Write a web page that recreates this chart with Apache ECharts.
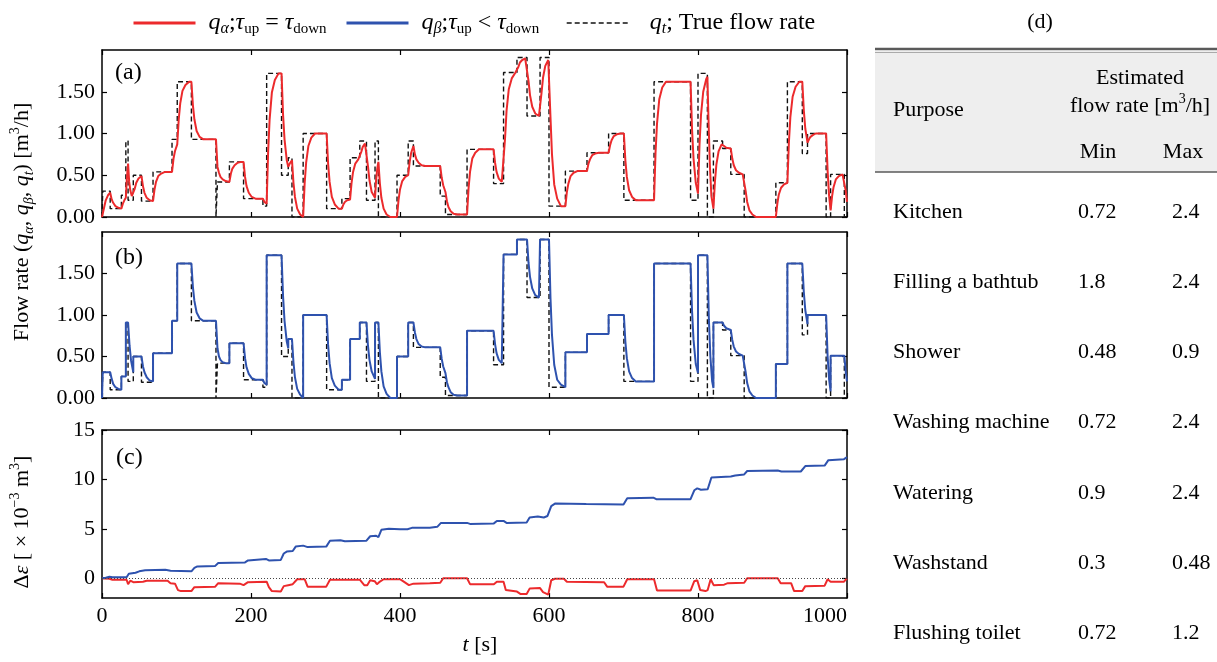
<!DOCTYPE html>
<html><head><meta charset="utf-8">
<script src="https://cdn.jsdelivr.net/npm/echarts@6/dist/echarts.min.js"></script>
<style>html,body{margin:0;padding:0;background:#fff}#c{width:1217px;height:662px}</style>
</head><body><div id="c"></div>
<script>
// ---------- data ----------
const xTicks = [0, 200, 400, 600, 800, 1000];
const flowTicks = [0, 0.5, 1, 1.5];
const errTicks = [0, 5, 10, 15];

// true flow rate: [time, value] held until next change
const trueFlow = [[0,0],[1,0.31],[11,0.1],[26,0.26],[32,0.91],[35,0.2],[42,0.5],[53,0.19],[68.5,0.54],[94,0.93],[101,1.62],[120,0.93],[153,0],[155,0.42],[171,0.66],[190,0.22],[216,0.13],[221,1.72],[241,0.5],[250,0.71],[255,0],[270,1.0],[301.5,0.1],[322,0.22],[333,0.71],[346,0.91],[355,0.2],[366.5,0.91],[371,0],[396,0.5],[411,0.91],[418,0.61],[454,0.25],[461,0.03],[490,0.81],[525.6,0.4],[539,1.73],[557,1.91],[570.5,1.21],[588,1.91],[600,0.13],[622,0.55],[651,0.77],[680,1.0],[700.5,0.2],[741,1.62],[790,0.2],[800,1.72],[812.6,0],[820.7,0.91],[833,0.82],[844,0.51],[862,0],[904.5,0.41],[920,1.62],[940,0.76],[947,1.0],[972,0],[978,0.51],[996.4,0],[1000,0]];

const qAlpha = [[0,0],[1,0],[3,0.12],[5,0.2],[8,0.26],[11,0.29],
[13,0.21],[15,0.17],[18,0.13],[22,0.11],[26,0.1],
[28,0.16],[30,0.2],[32,0.23],
[33,0.4],[34,0.53],[35,0.64],
[36.5,0.42],[38,0.32],[40,0.25],[42,0.23],
[44,0.34],[46,0.41],[49,0.46],[53,0.49],
[55,0.37],[57,0.29],[60,0.23],[64,0.2],[68.5,0.19],
[70.5,0.33],[72.5,0.42],[75.5,0.49],[79.5,0.52],[84.5,0.54],[94,0.54],
[96,0.7],[98,0.79],[101,0.87],
[103,1.17],[105,1.36],[108,1.51],[112,1.58],[117,1.62],[120,1.62],
[122,1.34],[124,1.17],[127,1.03],[131,0.96],[136,0.93],[153,0.93],
[155,0.6],
[157,0.53],[159,0.48],[162,0.45],[166,0.43],[171,0.42],
[173,0.52],[175,0.58],[178,0.62],[182,0.65],[187,0.66],[190,0.66],
[192,0.48],[194,0.37],[197,0.29],[201,0.24],[206,0.22],[216,0.22],
[218,0.18],[221,0.16],
[223,0.78],[225,1.17],[228,1.49],[232,1.64],[237,1.72],[241,1.72],
[243,1.23],[245,0.93],[248,0.68],[250,0.6],
[252,0.64],[255,0.68],
[257,0.41],[259,0.24],[262,0.1],[266,0.03],[270,0],
[272,0.4],[274,0.65],[277,0.85],[281,0.95],[286,1.0],[301.5,1.0],
[303.5,0.64],[305.5,0.42],[308.5,0.24],[312.5,0.15],[317.5,0.1],[322,0.1],
[324,0.15],[326,0.18],[329,0.2],[333,0.21],
[335,0.41],[337,0.54],[340,0.64],[344,0.69],[346,0.7],
[348,0.78],[350,0.84],[353,0.88],[355,0.89],
[357,0.61],[359,0.44],[362,0.3],[366.5,0.23],
[368,0.45],[369.5,0.58],[371,0.66],
[373,0.4],[375,0.23],[378,0.1],[382,0.03],[387,0],[396,0],
[398,0.2],[400,0.33],[403,0.43],[407,0.48],[411,0.5],
[413,0.66],[415,0.77],[418,0.85],
[420,0.75],[422,0.69],[425,0.65],[429,0.62],[434,0.61],[454,0.61],
[456,0.47],[458,0.38],[461,0.3],
[463,0.19],[465,0.12],[468,0.07],[472,0.04],[477,0.03],[490,0.03],
[492,0.34],[494,0.54],[497,0.7],[501,0.77],[506,0.81],[525.6,0.81],
[527.6,0.65],[529.6,0.54],[532.6,0.46],[536.6,0.42],[539,0.41],
[541,0.94],[543,1.27],[546,1.53],[550,1.66],[555,1.73],[557,1.73],
[559,1.8],[561,1.85],[564,1.88],[568,1.9],[570.5,1.91],
[572.5,1.63],[574.5,1.46],[577.5,1.32],[581.5,1.24],[586.5,1.21],[588,1.21],
[590,1.49],[592,1.67],[595,1.81],[599,1.88],[600,1.89],
[602,1.19],[604,0.75],[607,0.39],[611,0.22],[616,0.13],[622,0.13],
[624,0.3],[626,0.4],[629,0.49],[633,0.53],[638,0.55],[651,0.55],
[653,0.64],[655,0.69],[658,0.74],[662,0.76],[667,0.77],[680,0.77],
[682,0.86],[684,0.92],[687,0.97],[691,0.99],[696,1.0],[700.5,1.0],
[702.5,0.68],[704.5,0.48],[707.5,0.32],[711.5,0.24],[716.5,0.2],[741,0.2],
[743,0.77],[745,1.12],[748,1.41],[752,1.55],[757,1.62],[790,1.62],
[792,1.05],[794,0.7],[797,0.41],[800,0.28],
[802,0.86],[804,1.22],[807,1.5],[811,1.65],[812.6,1.68],
[814,1.2],[816,0.6],[818,0.25],[820.7,0.1],
[822.7,0.42],[824.7,0.63],[827.7,0.79],[831.7,0.87],[833,0.88],
[835,0.85],[838,0.83],[844,0.82],
[846,0.7],[848,0.62],[851,0.56],[855,0.53],[860,0.51],[862,0.51],
[864,0.31],[866,0.18],[869,0.08],[873,0.03],[878,0],[904.5,0],
[906.5,0.16],[908.5,0.27],[911.5,0.35],[915.5,0.39],[920,0.41],
[922,0.89],[924,1.2],[927,1.44],[931,1.56],[936,1.62],[940,1.62],
[942,1.28],[944,1.06],[947,0.89],
[949,0.93],[951,0.96],[954,0.98],[958,1.0],[972,1.0],
[974,0.55],[976,0.25],[978,0.08],
[980,0.25],[982,0.36],[985,0.45],[989,0.49],[994,0.51],[996.4,0.51],
[998.4,0.31],[1000,0.18]];

const qBeta = [[0,0],[1,0],[1,0.31],[11,0.31],
[13,0.23],[15,0.17],[18,0.13],[22,0.11],[26,0.1],
[26,0.26],[32,0.26],[32,0.91],[35,0.91],
[37,0.63],[39,0.45],[42,0.31],
[42,0.5],[53,0.5],
[55,0.38],[57,0.31],[60,0.25],[64,0.21],[68.5,0.2],
[68.5,0.54],[94,0.54],[94,0.93],[101,0.93],[101,1.62],[120,1.62],
[122,1.34],[124,1.17],[127,1.03],[131,0.96],[136,0.93],[153,0.93],
[155,0.6],[157,0.5],[159,0.46],[162,0.43],[166,0.42],[171,0.42],
[171,0.66],[190,0.66],
[192,0.48],[194,0.37],[197,0.29],[201,0.24],[206,0.22],[216,0.22],
[218,0.18],[221,0.16],
[221,1.72],[241,1.72],
[243,1.23],[245,0.93],[248,0.68],[250,0.6],
[250,0.71],[255,0.71],
[257,0.43],[259,0.25],[262,0.11],[266,0.04],[270,0],
[270,1.0],[301.5,1.0],
[303.5,0.64],[305.5,0.42],[308.5,0.24],[312.5,0.15],[317.5,0.1],[322,0.1],
[322,0.22],[333,0.22],[333,0.71],[346,0.71],[346,0.91],[355,0.91],
[357,0.63],[359,0.46],[362,0.32],[366.5,0.23],
[366.5,0.91],[371,0.91],
[373,0.55],[375,0.32],[378,0.14],[382,0.05],[387,0],[396,0],
[396,0.5],[411,0.5],[411,0.91],[418,0.91],
[420,0.79],[422,0.71],[425,0.65],[429,0.62],[434,0.61],[454,0.61],
[456,0.47],[458,0.38],[461,0.3],
[463,0.19],[465,0.13],[468,0.07],[472,0.04],[477,0.03],[490,0.03],
[490,0.81],[525.6,0.81],
[527.6,0.65],[529.6,0.54],[532.6,0.46],[536.6,0.42],[539,0.41],
[539,1.73],[557,1.73],[557,1.91],[570.5,1.91],
[572.5,1.63],[574.5,1.46],[577.5,1.32],[581.5,1.24],[586.5,1.21],[588,1.21],
[588,1.91],[600,1.91],
[602,1.2],[604,0.76],[607,0.4],[611,0.22],[616,0.16],[622,0.13],
[622,0.55],[651,0.55],[651,0.77],[680,0.77],[680,1.0],[700.5,1.0],
[702.5,0.68],[704.5,0.48],[707.5,0.32],[711.5,0.24],[716.5,0.2],[741,0.2],
[741,1.62],[790,1.62],
[792,1.05],[794,0.7],[797,0.41],[800,0.3],
[800,1.72],[812.6,1.72],
[814.6,0.95],[816.6,0.5],[819,0.2],[820.7,0.12],
[820.7,0.91],[833,0.91],
[835,0.87],[838,0.84],[844,0.82],
[846,0.7],[848,0.62],[851,0.56],[855,0.53],[860,0.51],[862,0.51],
[864,0.31],[866,0.18],[869,0.08],[873,0.03],[878,0],[904.5,0],
[904.5,0.41],[920,0.41],[920,1.62],[940,1.62],
[942,1.28],[944,1.06],[947,0.89],
[947,1.0],[972,1.0],
[974,0.5],[976,0.22],[978,0.08],
[978,0.51],[996.4,0.51],
[998.4,0.31],[1000,0.2]];

const errAlpha = [[0,0],[10,-0.05],[14,-0.15],[33,-0.15],[35,-0.6],[38,-0.25],[42,-0.4],[55,-0.35],[60,-0.25],[88,-0.25],[92,-0.5],[98,-0.55],[102,-1.2],[106,-1.3],[120,-1.3],[124,-0.9],[152,-0.85],[156,-0.5],[185,-0.55],[190,-0.7],[196,-0.4],[221,-0.35],[224,-0.9],[228,-1.3],[240,-1.35],[244,-0.8],[250,-0.7],[256,-0.6],[262,-0.1],[272,-0.1],[276,-0.85],[301,-0.85],[306,-0.15],[346,-0.15],[352,-0.7],[356,-0.7],[360,-0.2],[366,-0.3],[369,-0.6],[372,-0.4],[378,-0.1],[400,-0.1],[404,-0.3],[412,-0.7],[418,-0.55],[440,-0.5],[454,-0.45],[458,0],[490,0],[494,-0.6],[526,-0.6],[530,-0.35],[539,-0.35],[542,-1.2],[557,-1.35],[562,-1.6],[570,-1.6],[574,-1.05],[588,-1.0],[592,-1.4],[599,-1.65],[603,-0.2],[608,-0.05],[620,-0.05],[624,-0.35],[674,-0.4],[678,-0.85],[700,-0.85],[705,-0.1],[741,-0.1],[745,-1.25],[790,-1.25],[795,-0.3],[799,-0.2],[803,-1.2],[810,-1.3],[813,-1.2],[817,-0.1],[821,-0.7],[835,-0.65],[840,-0.5],[862,-0.45],[866,0],[907,0],[911,-0.5],[925,-0.5],[929,-1.3],[940,-1.3],[944,-0.8],[970,-0.75],[974,-0.1],[978,-0.35],[996,-0.35],[1000,0]];

const errBeta = [[0,0],[5,0.05],[10,0.15],[14,0.1],[33,0.1],[36,0.45],[45,0.55],[50,0.7],[58,0.8],[85,0.85],[92,0.75],[120,0.7],[124,1.05],[128,1.2],[152,1.25],[156,1.55],[192,1.6],[196,1.8],[220,1.95],[224,1.8],[240,1.85],[244,2.5],[248,2.7],[256,2.75],[260,3.2],[270,3.3],[276,3.15],[301,3.2],[306,3.8],[320,3.85],[326,3.75],[355,3.8],[360,4.25],[368,4.3],[371,4.15],[375,4.9],[385,5.0],[400,4.95],[410,4.95],[416,5.1],[440,5.1],[450,5.2],[455,5.6],[490,5.6],[494,5.5],[526,5.55],[530,5.8],[539,5.8],[543,5.6],[570,5.65],[574,6.15],[585,6.25],[593,6.15],[598,6.3],[603,7.3],[608,7.55],[650,7.5],[700,7.45],[705,8.1],[740,8.15],[744,8.0],[790,8.0],[795,8.9],[799,9.1],[804,8.95],[813,9.0],[818,10.2],[844,10.3],[850,10.4],[862,10.5],[866,10.85],[907,10.9],[912,10.8],[938,10.8],[944,11.35],[970,11.4],[975,11.95],[996,12.05],[1000,12.25]];

const purposes = ['Kitchen', 'Filling a bathtub', 'Shower', 'Washing machine', 'Watering', 'Washstand', 'Flushing toilet'];
const minRates = ['0.72', '1.8', '0.48', '0.72', '0.9', '0.3', '0.72'];
const maxRates = ['2.4', '2.4', '0.9', '2.4', '2.4', '0.48', '1.2'];

// ---------- styling ----------
const SERIF = '"Liberation Serif", "Times New Roman", "DejaVu Serif", serif';
const RED = '#ec2a2c';
const BLUE = '#2e52ae';
const BLACK = '#000';

const grids = [
  {left: 102, top: 50, width: 745, height: 167},
  {left: 102, top: 232, width: 745, height: 166},
  {left: 102, top: 430, width: 745, height: 168}
];

const axisLineStyle = {show: true, onZero: false, lineStyle: {color: BLACK, width: 1.5}};
const labelStyle = {color: BLACK, fontFamily: SERIF, fontSize: 22};

function xAx(g, pos, showLabel) {
  return {
    type: 'value', gridIndex: g, position: pos, min: xTicks[0], max: xTicks[xTicks.length - 1], interval: 200,
    splitLine: {show: false}, axisLine: axisLineStyle,
    axisTick: {show: true, inside: true, length: 5, lineStyle: {color: BLACK, width: 1.2}},
    axisLabel: Object.assign({show: showLabel, margin: 7, alignMaxLabel: 'right', formatter: v => String(v)}, labelStyle)
  };
}
function yAx(g, pos, showLabel, min, max, ticks, fmt) {
  return {
    type: 'value', gridIndex: g, position: pos, min: min, max: max,
    splitLine: {show: false}, axisLine: axisLineStyle,
    axisTick: {show: true, inside: true, length: 5, customValues: ticks, lineStyle: {color: BLACK, width: 1.2}},
    axisLabel: Object.assign({show: showLabel, margin: 7, customValues: ticks, formatter: fmt}, labelStyle)
  };
}
const fmtFlow = v => Number(v).toFixed(2);
const fmtErr = v => String(v);

const xAxis = [
  xAx(0, 'bottom', false), xAx(0, 'top', false),
  xAx(1, 'bottom', false), xAx(1, 'top', false),
  xAx(2, 'bottom', true), xAx(2, 'top', false)
];
const yAxis = [
  yAx(0, 'left', true, 0, 2, flowTicks, fmtFlow), yAx(0, 'right', false, 0, 2, flowTicks, fmtFlow),
  yAx(1, 'left', true, 0, 2, flowTicks, fmtFlow), yAx(1, 'right', false, 0, 2, flowTicks, fmtFlow),
  yAx(2, 'left', true, -2, 15, errTicks, fmtErr), yAx(2, 'right', false, -2, 15, errTicks, fmtErr)
];

const base = {type: 'line', symbol: 'none', showSymbol: false, animation: false};
const dashStyle = {color: '#111', width: 1.4, type: [5, 3]};

const series = [
  Object.assign({}, base, {name: 'qt', xAxisIndex: 0, yAxisIndex: 0, data: trueFlow, step: 'end', lineStyle: dashStyle, itemStyle: {color: '#111'}, z: 2}),
  Object.assign({}, base, {name: 'qa', xAxisIndex: 0, yAxisIndex: 0, data: qAlpha, lineStyle: {color: RED, width: 2}, itemStyle: {color: RED}, z: 3}),
  Object.assign({}, base, {name: 'qt', xAxisIndex: 2, yAxisIndex: 2, data: trueFlow, step: 'end', lineStyle: dashStyle, itemStyle: {color: '#111'}, z: 2}),
  Object.assign({}, base, {name: 'qb', xAxisIndex: 2, yAxisIndex: 2, data: qBeta, lineStyle: {color: BLUE, width: 2}, itemStyle: {color: BLUE}, z: 3}),
  Object.assign({}, base, {name: 'qa', xAxisIndex: 4, yAxisIndex: 4, data: errAlpha, lineStyle: {color: RED, width: 2}, itemStyle: {color: RED}, z: 3,
    markLine: {silent: true, symbol: 'none', label: {show: false}, animation: false,
      lineStyle: {color: '#444', width: 1, type: [1, 2]}, data: [{yAxis: 0}]}}),
  Object.assign({}, base, {name: 'qb', xAxisIndex: 4, yAxisIndex: 4, data: errBeta, lineStyle: {color: BLUE, width: 2}, itemStyle: {color: BLUE}, z: 3})
];

// ---------- legend ----------
const legRich = {
  g: {width: 8},
  i: {fontFamily: SERIF, fontStyle: 'italic', fontSize: 24, color: BLACK, lineHeight: 28},
  n: {fontFamily: SERIF, fontSize: 24, color: BLACK, lineHeight: 28},
  s: {fontFamily: SERIF, fontSize: 15, color: BLACK, lineHeight: 14, verticalAlign: 'bottom'},
  si: {fontFamily: SERIF, fontStyle: 'italic', fontSize: 16, color: BLACK, lineHeight: 14, verticalAlign: 'bottom'}
};
const legendText = {
  qa: '{g|}{i|q}{si|α}{n|;}{i|τ}{s|up}{n| = }{i|τ}{s|down}',
  qb: '{g|}{i|q}{si|β}{n|;}{i|τ}{s|up}{n| < }{i|τ}{s|down}',
  qt: '{g|}{g|}{i|q}{si|t}{n|; True flow rate}'
};
function leg(name, left, lw) {
  return {
    data: [name], left: left, top: 11, itemWidth: 62, itemHeight: 14, padding: 0,
    itemStyle: {opacity: 0}, lineStyle: {width: lw},
    formatter: n => legendText[n], textStyle: {rich: legRich}, selectedMode: false
  };
}
const legend = [leg('qa', 132, 3), leg('qb', 345, 3), leg('qt', 566, 1.4)];

// ---------- graphic (labels + table) ----------
function txt(x, y, text, align, size, extra) {
  return Object.assign({
    type: 'text', x: x, y: y, silent: true,
    style: {text: text, font: (size || 22) + 'px ' + SERIF, fill: BLACK, textAlign: align || 'left', textVerticalAlign: 'middle'}
  }, extra || {});
}
const gRich = {
  n: {fontFamily: SERIF, fontSize: 22, fill: BLACK, lineHeight: 28},
  i: {fontFamily: SERIF, fontStyle: 'italic', fontSize: 22, fill: BLACK, lineHeight: 28},
  s: {fontFamily: SERIF, fontStyle: 'italic', fontSize: 14, fill: BLACK, lineHeight: 14, verticalAlign: 'bottom'},
  p: {fontFamily: SERIF, fontSize: 14, fill: BLACK, lineHeight: 14, verticalAlign: 'top'}
};
const graphic = [];
graphic.push(txt(115, 73, '(a)', 'left', 24));
graphic.push(txt(115, 258, '(b)', 'left', 24));
graphic.push(txt(116, 458, '(c)', 'left', 24));
graphic.push({type: 'text', x: 22, y: 222, rotation: Math.PI / 2, silent: true,
  style: {text: '{n|Flow rate (}{i|q}{s|α}{n|, }{i|q}{s|β}{n|, }{i|q}{s|t}{n|) [m}{p|3}{n|/h]}', rich: gRich, textAlign: 'center', textVerticalAlign: 'middle'}});
graphic.push({type: 'text', x: 22, y: 522, rotation: Math.PI / 2, silent: true,
  style: {text: '{n|Δ}{i|ε}{n| [ × 10}{p|−3}{n| m}{p|3}{n|]}', rich: gRich, textAlign: 'center', textVerticalAlign: 'middle'}});
graphic.push({type: 'text', x: 480, y: 645, silent: true,
  style: {text: '{i|t}{n| [s]}', rich: gRich, textAlign: 'center', textVerticalAlign: 'middle'}});

// table (d)
graphic.push(txt(1040, 22, '(d)', 'center', 22));
graphic.push({type: 'rect', silent: true, shape: {x: 875, y: 51, width: 342, height: 121}, style: {fill: '#eeeeee'}});
graphic.push({type: 'line', silent: true, shape: {x1: 875, y1: 49, x2: 1217, y2: 49}, style: {stroke: '#5a5a5a', lineWidth: 2.5}});
graphic.push({type: 'line', silent: true, shape: {x1: 875, y1: 52.5, x2: 1217, y2: 52.5}, style: {stroke: '#aaaaaa', lineWidth: 1}});
graphic.push({type: 'line', silent: true, shape: {x1: 875, y1: 172, x2: 1217, y2: 172}, style: {stroke: '#5a5a5a', lineWidth: 1.5}});
graphic.push(txt(893, 110, 'Purpose', 'left', 22));
graphic.push(txt(1140, 78, 'Estimated', 'center', 22));
graphic.push({type: 'text', x: 1140, y: 106, silent: true,
  style: {text: '{n|flow rate [m}{p|3}{n|/h]}', rich: gRich, textAlign: 'center', textVerticalAlign: 'middle'}});
graphic.push(txt(1098, 152, 'Min', 'center', 22));
graphic.push(txt(1183, 152, 'Max', 'center', 22));
purposes.forEach((p, k) => {
  const y = 212 + k * 70.2;
  graphic.push(txt(893, y, p, 'left', 22));
  graphic.push(txt(1078, y, minRates[k], 'left', 22));
  graphic.push(txt(1172, y, maxRates[k], 'left', 22));
});

const chart = echarts.init(document.getElementById('c'), null, {renderer: 'canvas'});
chart.setOption({
  backgroundColor: '#fff',
  animation: false,
  grid: grids,
  xAxis: xAxis,
  yAxis: yAxis,
  legend: legend,
  series: series,
  graphic: graphic
});
</script>
</body></html>
